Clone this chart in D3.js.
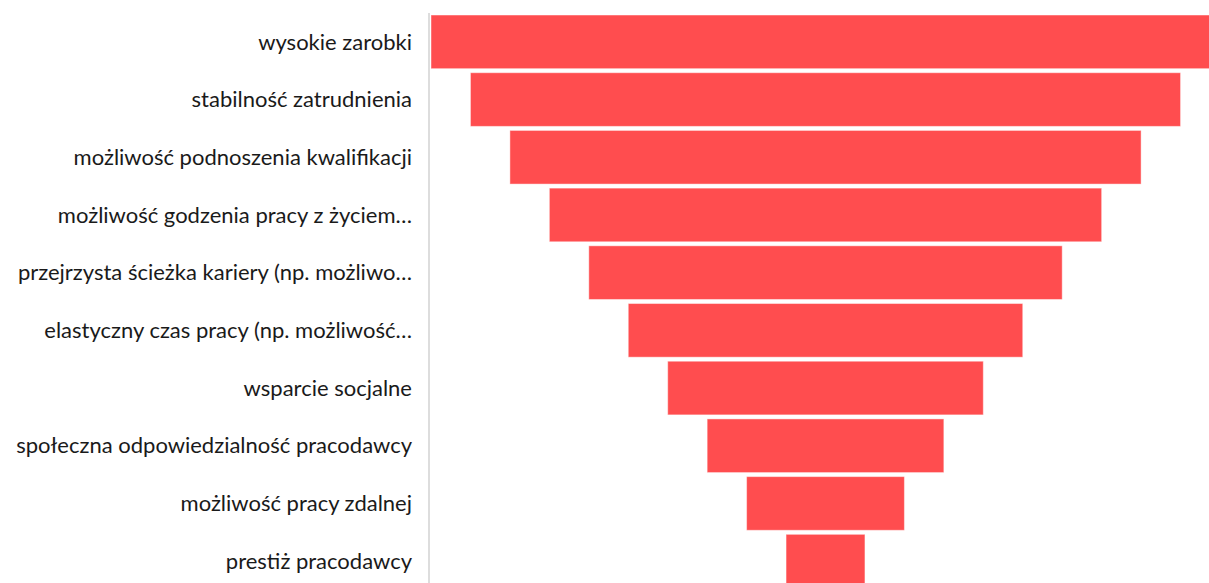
<!DOCTYPE html>
<html>
<head>
<meta charset="utf-8">
<script src="https://cdn.jsdelivr.net/npm/d3@7"></script>
<style>
  body { margin: 0; background: #fff; overflow: hidden; }
  text { font-family: Lato, 'Open Sans', sans-serif; fill: #1a1a1a; }
</style>
</head>
<body>
<svg id="chart" width="1209" height="583"></svg>
<script>
const categories = [
  'wysokie zarobki',
  'stabilność zatrudnienia',
  'możliwość podnoszenia kwalifikacji',
  'możliwość godzenia pracy z życiem…',
  'przejrzysta ścieżka kariery (np. możliwo…',
  'elastyczny czas pracy (np. możliwość…',
  'wsparcie socjalne',
  'społeczna odpowiedzialność pracodawcy',
  'możliwość pracy zdalnej',
  'prestiż pracodawcy',
];
const values = [100, 90, 80, 70, 60, 50, 40, 30, 20, 10];

const svg = d3.select('#chart');
const margin = { left: 430, top: 13 };
const plotWidth = 791;
const plotHeight = 577;

const y = d3
  .scaleBand()
  .domain(categories)
  .range([margin.top, margin.top + plotHeight])
  .paddingInner(0.07)
  .paddingOuter(0.035);

// bar width, bars centred in the plot
const w = d3.scaleLinear().domain([0, d3.max(values)]).range([0, plotWidth - 2]);
const cx = margin.left + plotWidth / 2;

svg
  .append('g')
  .selectAll('rect')
  .data(values)
  .join('rect')
  .attr('x', (d) => cx - w(d) / 2)
  .attr('y', (d, i) => y(categories[i]))
  .attr('width', (d) => w(d))
  .attr('height', y.bandwidth())
  .attr('fill', '#ff4d4f')
  .attr('stroke', '#ffffff')
  .attr('stroke-opacity', 0.45)
  .attr('stroke-width', 1);

// axis line
svg
  .append('line')
  .attr('x1', margin.left - 1)
  .attr('x2', margin.left - 1)
  .attr('y1', margin.top)
  .attr('y2', 583)
  .attr('stroke', '#dddddd')
  .attr('stroke-width', 2);

svg
  .append('g')
  .selectAll('text')
  .data(categories)
  .join('text')
  .attr('x', 412)
  .attr('y', (d) => y(d) + y.bandwidth() / 2)
  .attr('dy', '0.35em')
  .style('text-anchor', 'end')
  .style('font-size', '22px')
  .text((d) => d);
</script>
</body>
</html>
